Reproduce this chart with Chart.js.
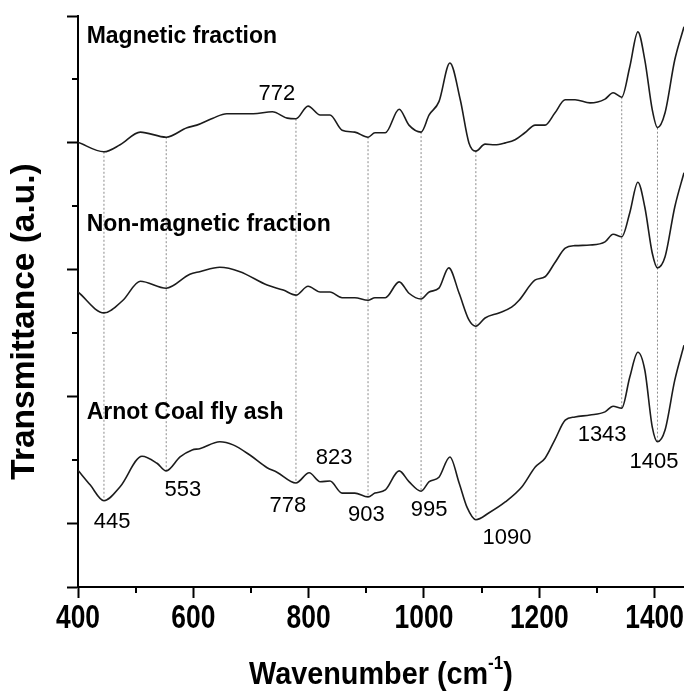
<!DOCTYPE html>
<html>
<head>
<meta charset="utf-8">
<script src="https://cdn.jsdelivr.net/npm/chart.js@4.4.1/dist/chart.umd.min.js"></script>
<style>
  html, body { margin: 0; padding: 0; background: #fff; }
  #wrap { width: 684px; height: 695px; }
</style>
</head>
<body>
<div id="wrap"><canvas id="ftirChart" width="684" height="695"></canvas></div>
<script>
// FTIR spectra, wavenumber (cm-1) vs transmittance (a.u., curves stacked)
const magWn = [400, 445, 473, 508, 553, 589, 606, 634, 658, 704, 737, 763, 778, 799, 820, 837, 858, 880, 903, 915, 933, 957, 974, 995, 1009, 1026, 1045, 1063, 1078, 1090, 1106, 1123, 1141, 1158, 1175, 1193, 1210, 1227, 1245, 1262, 1288, 1314, 1328, 1343, 1357, 1371, 1383, 1396, 1405, 1418, 1435, 1451];
const magT = [70.1, 68.6, 69.7, 71.7, 70.9, 72.4, 72.8, 73.9, 74.6, 74.6, 74.9, 73.9, 73.8, 75.8, 74.4, 74.4, 72.0, 71.7, 70.9, 71.6, 71.6, 75.3, 72.8, 71.7, 74.4, 76.5, 82.6, 76.8, 70.0, 68.7, 69.8, 69.7, 70.0, 70.5, 71.6, 72.8, 72.8, 74.7, 76.8, 76.8, 76.3, 76.9, 77.9, 77.2, 82.0, 87.5, 83.1, 75.2, 72.4, 74.7, 83.1, 88.3];

const nonWn = [400, 445, 478, 508, 553, 594, 611, 646, 681, 728, 756, 778, 799, 820, 837, 858, 880, 903, 915, 933, 957, 974, 995, 1009, 1026, 1043, 1061, 1078, 1090, 1106, 1130, 1152, 1165, 1193, 1210, 1227, 1245, 1262, 1288, 1314, 1328, 1343, 1357, 1371, 1383, 1396, 1405, 1418, 1435, 1451];
const nonT = [46.5, 43.2, 45.2, 48.2, 47.1, 49.3, 49.7, 50.4, 49.7, 47.6, 46.8, 46.0, 47.4, 46.5, 46.5, 45.6, 45.6, 45.2, 45.6, 45.6, 48.1, 46.3, 45.4, 46.5, 47.1, 50.3, 46.3, 42.1, 41.1, 42.4, 43.2, 44.1, 45.2, 48.4, 48.9, 51.1, 53.4, 53.8, 53.9, 54.4, 55.6, 55.2, 59.0, 63.8, 59.9, 52.6, 50.3, 52.0, 59.9, 65.3];

const arnWn = [400, 421, 445, 473, 511, 537, 553, 577, 598, 611, 646, 669, 698, 728, 745, 778, 801, 820, 837, 858, 880, 903, 915, 933, 957, 974, 995, 1009, 1026, 1045, 1061, 1075, 1090, 1113, 1141, 1170, 1193, 1210, 1227, 1245, 1262, 1288, 1314, 1328, 1343, 1357, 1371, 1383, 1396, 1405, 1418, 1435, 1451];
const arnT = [18.4, 16.1, 13.6, 15.8, 20.6, 19.5, 18.3, 20.5, 21.6, 21.8, 22.9, 22.4, 20.8, 18.8, 18.1, 16.4, 18.0, 16.6, 16.7, 14.8, 14.8, 14.2, 14.8, 15.3, 18.3, 16.6, 15.1, 16.6, 17.3, 20.5, 16.4, 12.5, 10.6, 11.7, 13.4, 15.8, 18.9, 20.3, 23.2, 26.3, 26.8, 27.1, 27.6, 28.5, 28.2, 33.1, 37.0, 34.2, 25.2, 22.9, 24.7, 32.6, 38.1];

const seriesNames = ['Magnetic fraction', 'Non-magnetic fraction', 'Arnot Coal fly ash'];
const nameY = [85.7, 56.1, 26.5];
const nameX = 415;

// dotted guide lines through the band positions
const peakLines = [445, 553, 778, 903, 995, 1090, 1343, 1405];
// band labels: value, label centre x, baseline y
const peakLabels = [772, 445, 553, 778, 823, 903, 995, 1090, 1343, 1405];
const labelX = [745, 459, 582, 764, 844, 900, 1009, 1144, 1309, 1399];
const labelY = [76.8, 9.3, 14.3, 11.8, 19.4, 10.4, 11.2, 6.8, 23.0, 18.8];

const xMajor = [400, 600, 800, 1000, 1200, 1400];
const xMinor = [500, 700, 900, 1100, 1300];
const yMajor = [0, 10, 30, 50, 70, 90];
const yMinor = [20, 40, 60, 80];

const toPoints = (wn, t) => wn.map((w, i) => ({ x: w, y: t[i] }));
const valueAt = (wn, t, w) => t[wn.indexOf(w)];

const curveStyle = {
    borderColor: '#1c1c1c',
    borderWidth: 1.6,
    pointRadius: 0,
    cubicInterpolationMode: 'monotone',
    fill: false,
    order: 1
};

const datasets = [
    { label: seriesNames[0], data: toPoints(magWn, magT), ...curveStyle },
    { label: seriesNames[1], data: toPoints(nonWn, nonT), ...curveStyle },
    { label: seriesNames[2], data: toPoints(arnWn, arnT), ...curveStyle }
];

peakLines.forEach(w => {
    datasets.push({
        label: 'line ' + w,
        data: [{ x: w, y: valueAt(magWn, magT, w) }, { x: w, y: valueAt(arnWn, arnT, w) }],
        borderColor: '#8c8c8c',
        borderWidth: 1,
        borderDash: [2, 2],
        pointRadius: 0,
        order: 2
    });
});

// narrow bold text: regular bold squeezed horizontally
function squeezedText(ctx, text, px, py, sx) {
    ctx.save();
    ctx.translate(px, py);
    ctx.scale(sx, 1);
    ctx.fillText(text, 0, 0);
    ctx.restore();
}

const figureText = {
    id: 'figureText',
    afterDraw(chart) {
        const { ctx, chartArea } = chart;
        const x = chart.scales.x, y = chart.scales.y;
        ctx.save();

        // minor ticks
        ctx.strokeStyle = '#000';
        ctx.lineWidth = 2;
        xMinor.forEach(v => {
            const px = Math.round(x.getPixelForValue(v));
            ctx.beginPath();
            ctx.moveTo(px, chartArea.bottom);
            ctx.lineTo(px, chartArea.bottom + 6);
            ctx.stroke();
        });
        yMinor.forEach(v => {
            const py = Math.round(y.getPixelForValue(v));
            ctx.beginPath();
            ctx.moveTo(chartArea.left, py);
            ctx.lineTo(chartArea.left - 6, py);
            ctx.stroke();
        });

        ctx.fillStyle = '#000';
        ctx.textBaseline = 'alphabetic';

        // x tick labels
        ctx.font = 'bold 33px "Liberation Sans", Arial, sans-serif';
        ctx.textAlign = 'center';
        xMajor.forEach(v => {
            squeezedText(ctx, String(v), x.getPixelForValue(v), chartArea.bottom + 41, 0.8);
        });

        // series names
        ctx.font = 'bold 23px "Liberation Sans", Arial, sans-serif';
        ctx.textAlign = 'left';
        seriesNames.forEach((n, i) => {
            ctx.fillText(n, x.getPixelForValue(nameX), y.getPixelForValue(nameY[i]));
        });

        // band labels
        ctx.font = '22px "Liberation Sans", Arial, sans-serif';
        ctx.textAlign = 'center';
        peakLabels.forEach((p, i) => {
            ctx.fillText(String(p), x.getPixelForValue(labelX[i]), y.getPixelForValue(labelY[i]));
        });

        // x title with superscript
        const sq = 0.9;
        const mainFont = 'bold 32px "Liberation Sans", Arial, sans-serif';
        const supFont = 'bold 19px "Liberation Sans", Arial, sans-serif';
        ctx.textAlign = 'left';
        ctx.font = mainFont;
        const w1 = ctx.measureText('Wavenumber (cm').width;
        const w3 = ctx.measureText(')').width;
        ctx.font = supFont;
        const w2 = ctx.measureText('-1').width;
        const cx = (chartArea.left + chartArea.right) / 2;
        ctx.save();
        ctx.translate(cx - (w1 + w2 + w3) * sq / 2, 684);
        ctx.scale(sq, 1);
        ctx.font = mainFont;
        ctx.fillText('Wavenumber (cm', 0, 0);
        ctx.font = supFont;
        ctx.fillText('-1', w1, -15);
        ctx.font = mainFont;
        ctx.fillText(')', w1 + w2, 0);
        ctx.restore();

        // y title
        ctx.translate(chartArea.left - 44, (chartArea.top + chartArea.bottom) / 2 + 20);
        ctx.rotate(-Math.PI / 2);
        ctx.textAlign = 'center';
        ctx.font = 'bold 33.5px "Liberation Sans", Arial, sans-serif';
        ctx.fillText('Transmittance (a.u.)', 0, 0);

        ctx.restore();
    }
};

new Chart(document.getElementById('ftirChart').getContext('2d'), {
    type: 'line',
    data: { datasets },
    options: {
        responsive: false,
        animation: false,
        devicePixelRatio: 1,
        layout: { padding: { top: 16, right: 0, bottom: 0, left: 0 } },
        plugins: { legend: { display: false }, tooltip: { enabled: false } },
        scales: {
            x: {
                type: 'linear',
                min: 400,
                max: 1451,
                afterBuildTicks: s => { s.ticks = xMajor.map(v => ({ value: v })); },
                ticks: { display: false },
                grid: { drawOnChartArea: false, tickLength: 11, tickWidth: 2, tickColor: '#000' },
                border: { color: '#000', width: 2 },
                afterFit: s => { s.height = 108; s.paddingLeft = 0; s.paddingRight = 0; }
            },
            y: {
                type: 'linear',
                min: 0,
                max: 90,
                afterBuildTicks: s => { s.ticks = yMajor.map(v => ({ value: v })); },
                ticks: { display: false },
                grid: { drawOnChartArea: false, tickLength: 11, tickWidth: 2, tickColor: '#000' },
                border: { color: '#000', width: 2 },
                afterFit: s => { s.width = 78; s.paddingTop = 0; s.paddingBottom = 0; }
            }
        }
    },
    plugins: [figureText]
});
</script>
</body>
</html>
